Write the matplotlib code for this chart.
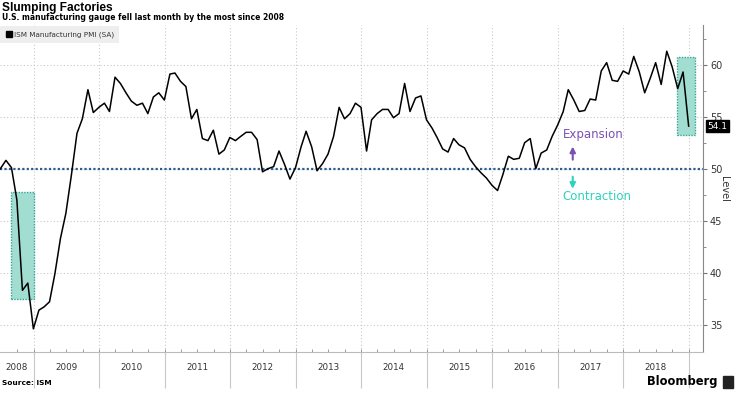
import numpy as np
import pandas as pd
import matplotlib
matplotlib.use("Agg")
import matplotlib.pyplot as plt
from matplotlib.patches import Rectangle
from matplotlib.lines import Line2D

# ISM manufacturing PMI (SA), monthly Jun 2008 - Dec 2018
pmi = [50.0, 50.8, 50.1, 47.0, 38.3, 39.0, 34.6,
       36.4, 36.7, 37.2, 39.9, 43.3, 45.7, 49.4, 53.4, 54.8, 57.6, 55.4, 55.9,
       56.3, 55.5, 58.8, 58.2, 57.3, 56.5, 56.1, 56.3, 55.3, 56.9, 57.3, 56.6,
       59.1, 59.2, 58.4, 57.9, 54.8, 55.7, 52.9, 52.7, 53.7, 51.4, 51.8, 53.0,
       52.7, 53.1, 53.5, 53.5, 52.8, 49.7, 50.0, 50.2, 51.7, 50.4, 49.0, 50.1,
       52.1, 53.6, 52.1, 49.8, 50.5, 51.4, 53.1, 55.9, 54.8, 55.3, 56.3, 55.9,
       51.7, 54.7, 55.3, 55.7, 55.7, 54.9, 55.3, 58.2, 55.5, 56.8, 57.0, 54.7,
       53.9, 53.0, 51.9, 51.6, 52.9, 52.3, 52.0, 50.9, 50.2, 49.6, 49.1, 48.4,
       47.9, 49.4, 51.2, 50.9, 51.0, 52.5, 52.9, 50.0, 51.5, 51.8, 53.1, 54.2,
       55.5, 57.6, 56.6, 55.5, 55.6, 56.7, 56.6, 59.4, 60.2, 58.5, 58.4, 59.4,
       59.1, 60.8, 59.3, 57.3, 58.7, 60.2, 58.1, 61.3, 59.8, 57.7, 59.3, 54.1]
months = pd.date_range("2008-07-01", periods=len(pmi), freq="MS") - pd.Timedelta(days=1)

years = list(range(2008, 2019))
year_labels = [str(y) for y in years]
y_ticks = [35, 40, 45, 50, 55, 60]

# highlighted spells: start, end, low, high
boxes = [("2008-08-31", "2009-01-04", 37.5, 47.8),
         ("2018-10-29", "2019-02-06", 53.2, 60.7)]

fig = plt.figure(figsize=(7.36, 3.93), dpi=100)
ax = fig.add_axes([0, 1 - 352 / 393, 703 / 736, 327 / 393])

x_left = months[0] - pd.Timedelta(days=2)
x_right = pd.Timestamp("2019-03-21")
ax.set_xlim(x_left, x_right)
ax.set_ylim(32.37, 63.82)

for start, end, lo, hi in boxes:
    s, e = pd.Timestamp(start), pd.Timestamp(end)
    ax.add_patch(Rectangle((s, lo), e - s, hi - lo, facecolor="#a2ddd2",
                           edgecolor="#34a595", linestyle=(0, (1, 1)), lw=1.0, zorder=1))

ax.axhline(50, color="#2e5d8c", lw=1.6, linestyle=(0, (1, 1)), zorder=2)
ax.plot(months, pmi, color="black", lw=1.1, zorder=3)

# y axis on the right
ax.yaxis.tick_right()
ax.yaxis.set_label_position("right")
ax.set_yticks(y_ticks)
ax.set_yticks([v + 2.5 for v in y_ticks], minor=True)
ax.tick_params(axis="y", which="both", labelsize=7, labelcolor="#333333", color="#777777")
ax.tick_params(axis="y", which="major", length=3, pad=2)
ax.tick_params(axis="y", which="minor", length=2)
ax.set_ylabel("Level", rotation=270, fontsize=7, color="#333333", labelpad=5)

# x axis: year separators, labels centred on each year
year_starts = [pd.Timestamp(f"{y}-01-01") for y in years[1:]] + [pd.Timestamp("2019-01-01")]
label_pos = [x_left + (year_starts[0] - x_left) / 2] + [pd.Timestamp(f"{y}-07-01") for y in years[1:]]
ax.set_xticks(year_starts)
ax.set_xticklabels([])
ax.set_xticks(label_pos, minor=True)
ax.set_xticklabels(year_labels, minor=True)
ax.tick_params(axis="x", which="major", length=26, width=0.8, color="#c8c8c8")
ax.tick_params(axis="x", which="minor", length=0, pad=8, labelsize=6.3, labelcolor="#333333")
quarters = pd.date_range("2008-10-01", "2019-01-01", freq="QS")
ax.vlines(quarters, 0, 0.008, transform=ax.get_xaxis_transform(), color="#999999", lw=0.7, zorder=2)

ax.grid(True, which="major", color="#c8c8c8", lw=0.8, linestyle=(0, (1, 2)))
ax.set_axisbelow(True)
for side in ["left", "top"]:
    ax.spines[side].set_visible(False)
ax.spines["right"].set_color("#888888")
ax.spines["bottom"].set_color("#bbbbbb")

# last value tag
ax.annotate(f"{pmi[-1]}", xy=(1, pmi[-1]), xycoords=("axes fraction", "data"),
            xytext=(3, 0), textcoords="offset points", ha="left", va="center",
            color="white", fontsize=6.5, annotation_clip=False,
            bbox=dict(boxstyle="square,pad=0.15", fc="black", ec="black"))

# expansion / contraction notes
ax.text(pd.Timestamp("2017-01-28"), 53.3, "Expansion", color="#7b4fb5", fontsize=8.5,
        ha="left", va="center")
ax.annotate("", xy=(pd.Timestamp("2017-03-25"), 52.4), xytext=(pd.Timestamp("2017-03-25"), 50.6),
            arrowprops=dict(arrowstyle="-|>", color="#7b4fb5", lw=1.5, mutation_scale=8))
ax.annotate("", xy=(pd.Timestamp("2017-03-25"), 47.8), xytext=(pd.Timestamp("2017-03-25"), 49.5),
            arrowprops=dict(arrowstyle="-|>", color="#2fd2bd", lw=1.5, mutation_scale=8))
ax.text(pd.Timestamp("2017-01-28"), 47.3, "Contraction", color="#2fd2bd", fontsize=8.5,
        ha="left", va="center")

leg = ax.legend([Line2D([], [], marker="s", color="black", ls="none", markersize=5)],
                ["ISM Manufacturing PMI (SA)"], loc="upper left",
                bbox_to_anchor=(0, 1 - 26 / 393), bbox_transform=fig.transFigure,
                fontsize=5.2, frameon=True, fancybox=False, borderaxespad=0,
                handletextpad=0.2, handlelength=1, borderpad=0.7)
leg.get_frame().set_facecolor("#eeeeee")
leg.get_frame().set_edgecolor("none")
leg.get_frame().set_alpha(1)
for t in leg.get_texts():
    t.set_color("#333333")

fig.text(0.003, 1 - 11 / 393, "Slumping Factories", fontsize=8.6, fontweight="bold",
         family="Liberation Sans", va="baseline")
fig.text(0.003, 1 - 20 / 393, "U.S. manufacturing gauge fell last month by the most since 2008",
         fontsize=5.5, fontweight="bold", va="baseline")
fig.text(0.003, 1 - 383 / 393, "Source: ISM", fontsize=5.3, fontweight="bold", va="center")
fig.text(718 / 736, 1 - 381 / 393, "Bloomberg", fontsize=8.3, fontweight="bold", ha="right", va="center")
fig.add_artist(Rectangle((723 / 736, 1 - 388 / 393), 10 / 736, 12 / 393,
                         transform=fig.transFigure, color="#222222"))

fig.savefig("out.png", dpi=100)
